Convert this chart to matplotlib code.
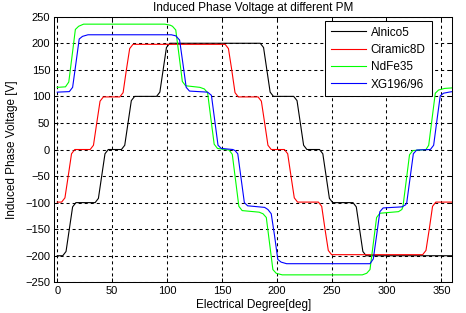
import numpy as np
import matplotlib
matplotlib.use("Agg")
import matplotlib.pyplot as plt

# points (electrical degree, induced phase voltage [V])
alnico5 = [(0, -200), (5, -200), (8, -192), (11, -150), (14, -108), (17, -100),
           (34.5, -100), (37.5, -92), (40.5, -50), (43.5, -8), (46.5, 0),
           (58.5, 0), (61.5, 8), (64.5, 50), (67.5, 92), (70.5, 100),
           (90.5, 100), (93.5, 108), (96.5, 150), (99.5, 192), (102.5, 200),
           (185, 200), (188, 192), (191, 150), (194, 108), (197, 100),
           (215.5, 100), (218.5, 92), (221.5, 50), (224.5, 8), (227.5, 0),
           (239, 0), (242, -8), (245, -50), (248, -92), (251, -100),
           (269.5, -100), (272.5, -108), (275.5, -150), (278.5, -192), (281.5, -200),
           (360, -200)]

ciramic8d = [(0, -99), (4, -99), (7, -91), (10, -50), (13, -8), (16, 0),
             (30, 0), (33, 8), (36, 50), (39, 91), (42, 99),
             (57, 99), (60, 107), (63, 150), (66, 190), (69, 198),
             (153, 198), (156, 190), (159, 150), (162, 107), (165, 99),
             (183, 99), (186, 91), (189, 50), (192, 8), (195, 0),
             (207, 0), (210, -8), (213, -50), (216, -91), (219, -99),
             (238, -99), (241, -107), (244, -150), (247, -190), (250, -198),
             (333, -198), (336, -190), (339, -150), (342, -107), (345, -99),
             (360, -99)]

ndfe35 = [(0, 117), (7.5, 118), (10.5, 127), (13.5, 176), (16.5, 226), (19.5, 232), (24, 236),
          (98, 236), (103, 234), (105, 232), (108, 225), (111, 177), (114, 128), (117, 120),
          (130, 117), (134, 114), (137, 107), (140, 58), (143, 10), (146, 2),
          (156.5, -1), (159.5, -9), (162.5, -58), (165.5, -107), (168.5, -115),
          (184, -118), (187.5, -121), (190.5, -128), (193.5, -177), (196.5, -226), (199.5, -233), (205, -236),
          (278, -236), (282, -233), (285, -226), (288, -177), (291, -128), (294, -120),
          (311, -117), (314, -113), (315, -108), (318, -59), (321, -10), (324, -2),
          (336, 0), (338.5, 8), (341.5, 57), (344.5, 106), (347.5, 112), (353, 115),
          (360, 116)]

xg196_96 = [(0, 108), (11, 109), (14, 117), (17, 162), (20, 208), (23, 213), (28, 216),
            (104, 216), (108, 214), (111.5, 206), (114.5, 162), (117.5, 117), (120.5, 110),
            (137, 108), (140.5, 102), (143.5, 55), (146.5, 8), (149.5, 2),
            (160, 0), (162, -2), (164.5, -8), (167.5, -54), (170.5, -100), (173.5, -106),
            (189, -109), (192, -113), (195, -121), (198, -162), (201, -207), (204, -212), (209, -215),
            (285, -215), (288, -206), (291, -162), (294, -117), (297, -110),
            (314, -108), (317.5, -104), (318.5, -100), (321.5, -54), (324.5, -8), (327.5, -1),
            (340, 0), (343, 8), (346, 55), (349, 101), (352, 106), (357, 108),
            (360, 109)]

names = ['Alnico5', 'Ciramic8D', 'NdFe35', 'XG196/96']
colors = ['#000000', '#ff0000', '#00ff00', '#0000ff']
series = [alnico5, ciramic8d, ndfe35, xg196_96]

xticks = list(range(0, 351, 50))
yticks = list(range(-250, 251, 50))

plt.rcParams['font.family'] = ['Liberation Sans', 'DejaVu Sans']
plt.rcParams['font.size'] = 8

fig = plt.figure(figsize=(4.66, 3.13), dpi=100)
ax = fig.add_axes([0.1165, 0.0981, 0.8541, 0.8485])

for pts, name, col in zip(series, names, colors):
    x, y = zip(*pts)
    ax.plot(x, y, color=col, lw=0.8, label=name)

ax.set_xlim(-2.7, 360)
ax.set_ylim(-250, 250)
ax.set_xticks(xticks)
ax.set_yticks(yticks)
ax.grid(True, color='black', lw=0.75, linestyle=(0, (2.9, 2.9)))
ax.tick_params(direction='in', top=True, right=True, length=3, width=0.7, pad=3)
for s in ax.spines.values():
    s.set_linewidth(0.75)

ax.set_title('Induced Phase Voltage at different PM', fontsize=8.5, pad=4)
ax.set_xlabel('Electrical Degree[deg]', fontsize=8.5, labelpad=2)
ax.set_ylabel('Induced Phase Voltage [V]', fontsize=8.5, labelpad=5)

leg = ax.legend(loc='upper right', bbox_to_anchor=(0.948, 0.985), borderaxespad=0,
                fancybox=False, framealpha=1, edgecolor='black', fontsize=8.5,
                handlelength=3.0, labelspacing=0.45, handletextpad=0.4,
                borderpad=0.5)
leg.get_frame().set_linewidth(0.75)

fig.savefig('out.png', dpi=100)
